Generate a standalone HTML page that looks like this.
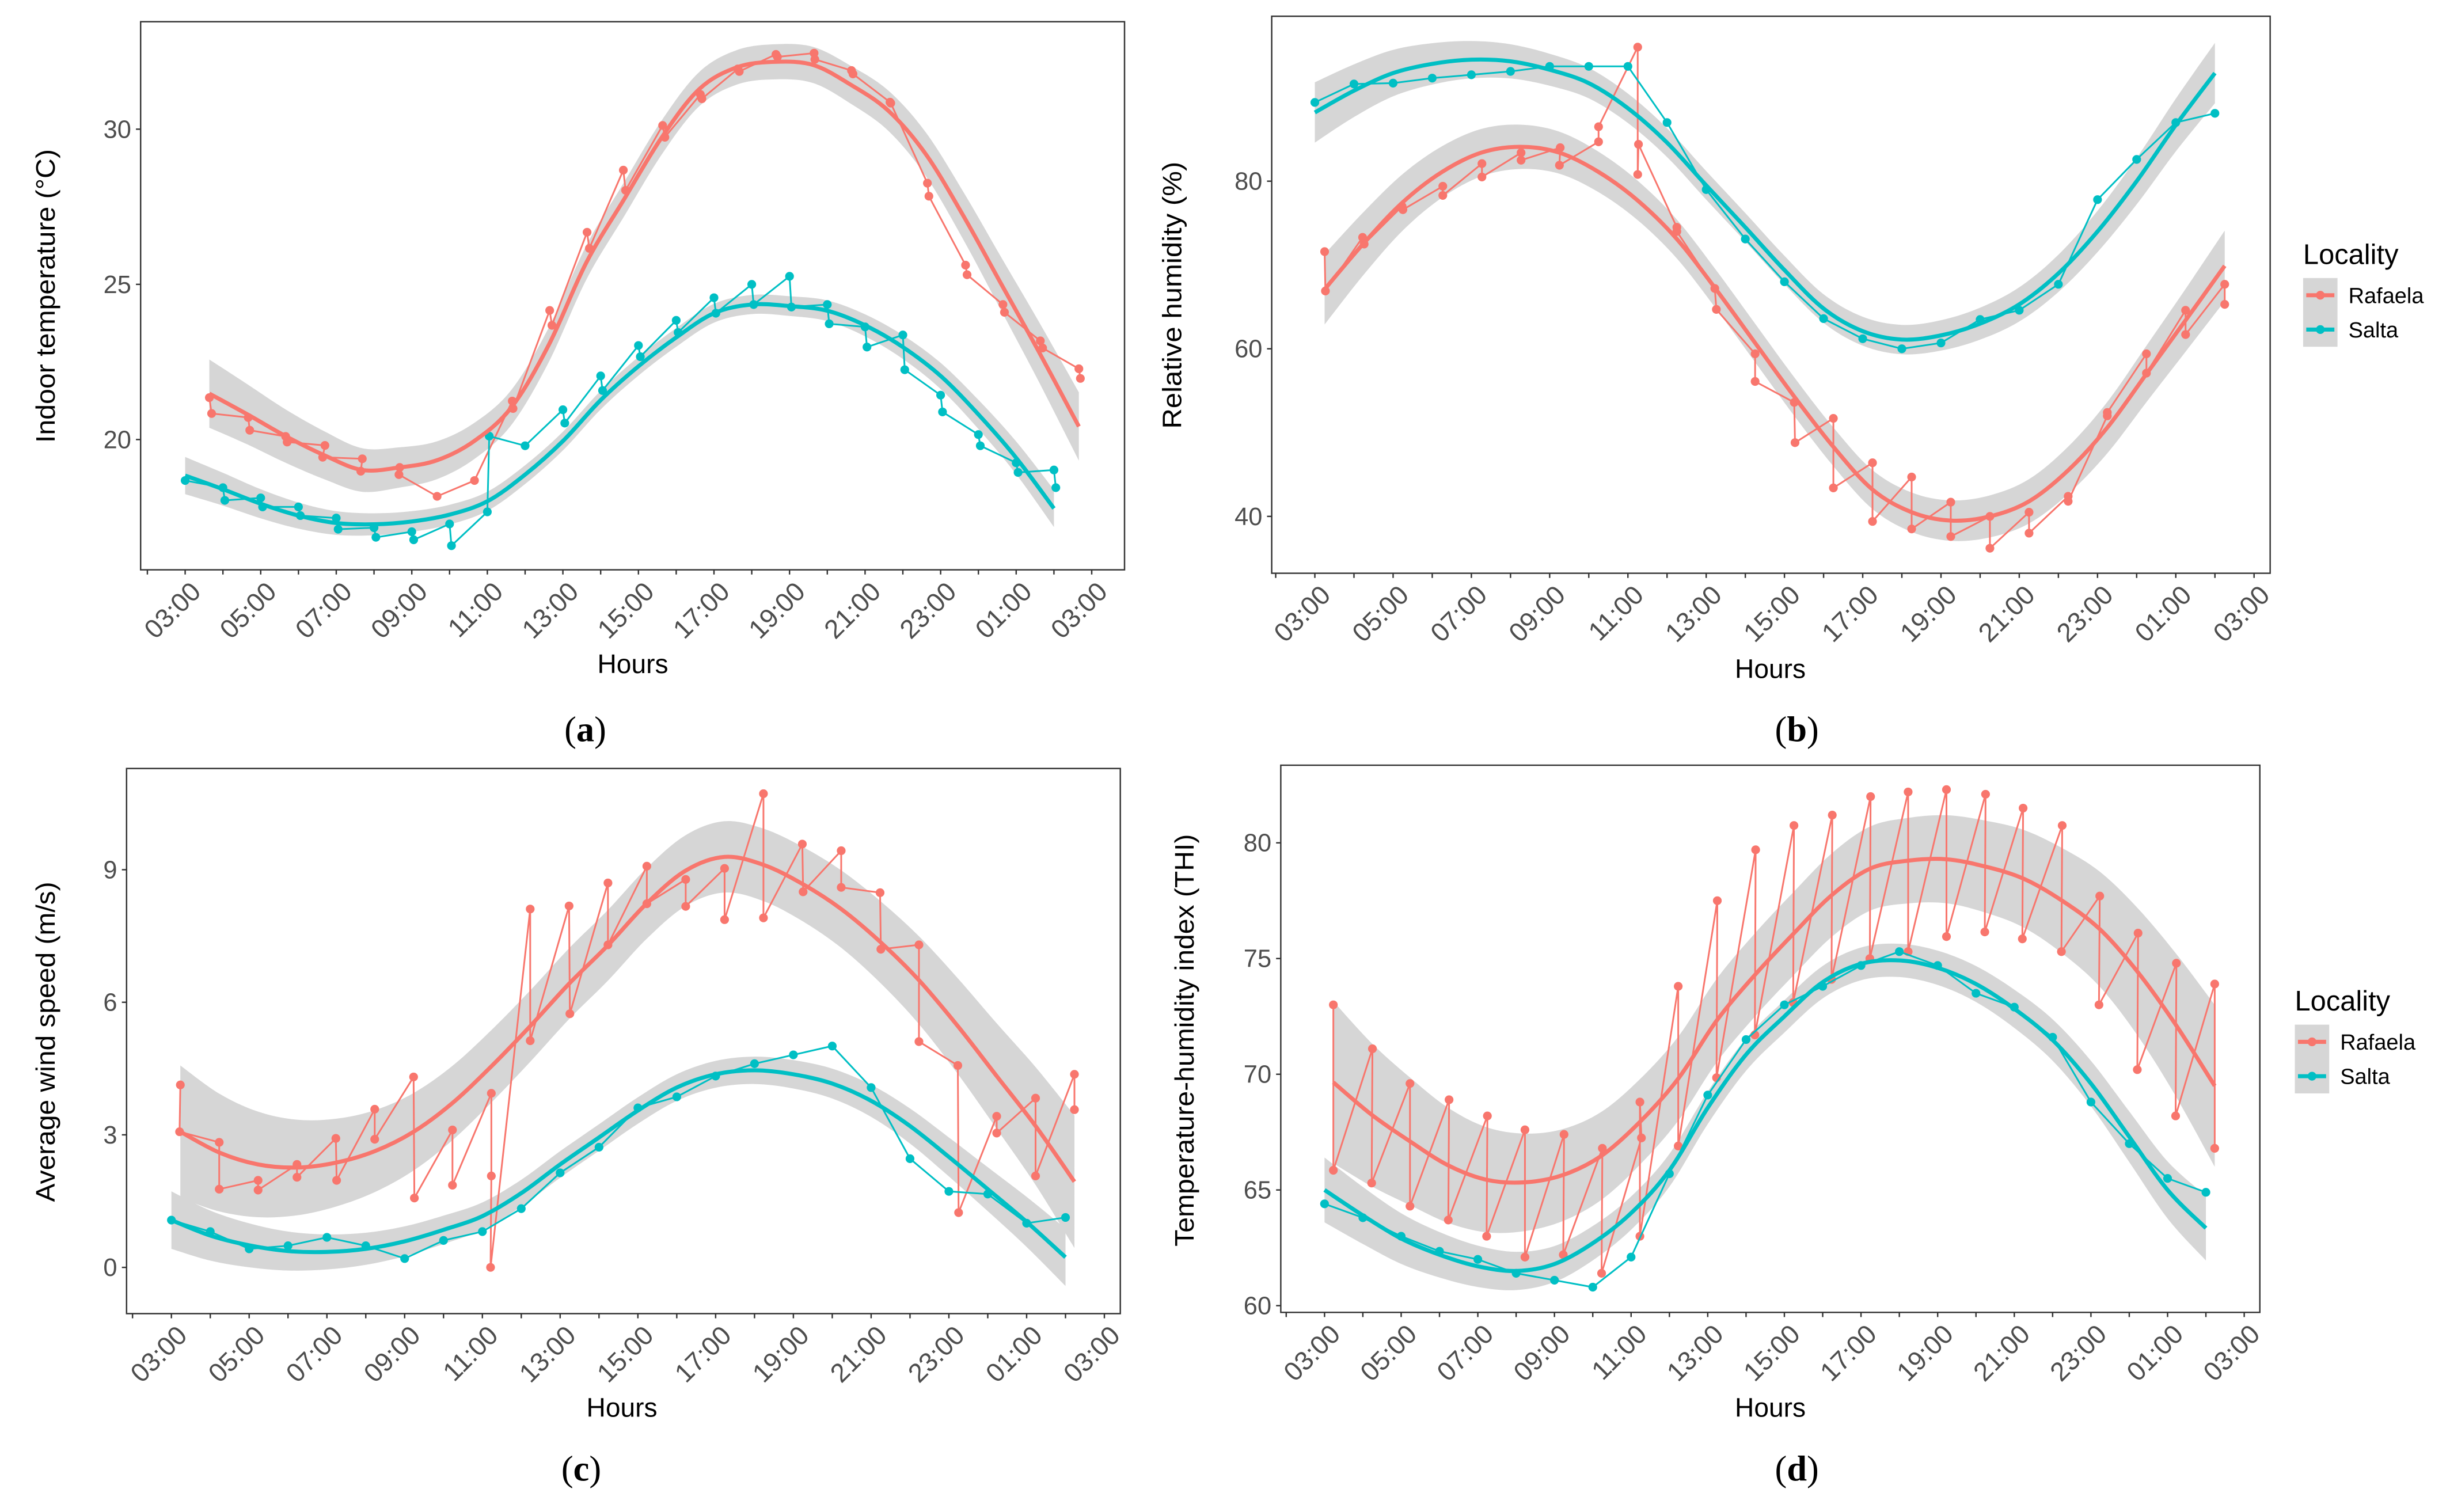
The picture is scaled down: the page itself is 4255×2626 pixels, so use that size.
<!DOCTYPE html>
<html><head><meta charset="utf-8"><style>
html,body{margin:0;padding:0;background:#fff;}
svg{display:block;}
text{font-family:"Liberation Sans",sans-serif;}
</style></head><body>
<svg id="fig" width="4255" height="2626" viewBox="0 0 1568 968" preserveAspectRatio="none" xmlns="http://www.w3.org/2000/svg"></svg>
<script>
// ---------- Panel (a) Indoor temperature ----------
const aRafT=[0.64,0.70,1.67,1.71,2.66,2.70,3.70,3.64,4.69,4.65,5.68,5.66,6.67,7.66,8.66,8.68,9.65,9.71,10.64,10.70,11.6,11.66,12.64,12.70,13.64,13.68,14.63,14.67,15.64,15.68,16.65,16.67,17.64,17.68,18.66,18.68,19.65,19.69,20.66,20.70,21.65,21.69,22.64,22.70,23.66,23.70];
const aRafV=[21.35,20.84,20.71,20.3,20.1,19.92,19.81,19.43,19.38,18.98,19.1,18.87,18.17,18.68,21.24,21.0,24.16,23.68,26.68,26.16,28.68,28.03,30.12,29.74,31.12,30.98,31.94,31.86,32.41,32.33,32.45,32.25,31.89,31.78,30.87,30.84,28.26,27.84,25.62,25.31,24.35,24.1,23.18,22.95,22.28,21.97];
const aSalT=[0,1,1.05,2,2.05,3,3.05,4,4.05,5,5.05,6,6.05,7,7.05,8,8.05,9,10,10.05,11,11.05,12,12.05,13,13.05,14,14.05,15,15.05,16,16.05,17,17.05,18,18.05,19,19.05,20,20.05,21,21.05,22,22.05,23,23.05];
const aSalV=[18.68,18.45,18.04,18.12,17.83,17.83,17.55,17.47,17.11,17.16,16.85,17.03,16.77,17.28,16.58,17.67,20.11,19.8,20.96,20.53,22.05,21.58,23.03,22.67,23.84,23.45,24.57,24.07,25.0,24.35,25.26,24.27,24.35,23.73,23.63,22.98,23.37,22.25,21.43,20.89,20.16,19.8,19.25,18.94,19.02,18.45];
const aRafFitT=[0.64,1.65,2.66,3.69,4.68,5.67,6.66,7.65,8.64,9.63,10.62,11.61,12.62,13.61,14.6,15.61,16.62,17.61,18.62,19.61,20.62,21.61,22.6,23.66];
const aRafFit=[21.48,20.81,20.11,19.49,19.02,19.1,19.33,19.95,21.04,23.06,25.7,27.72,29.74,31.29,31.99,32.17,32.07,31.44,30.59,29.19,27.17,25.0,22.83,20.42];
const aSalFitT=[0,1,2,3,4,5,6,7,8,9,10,11,12,13,14,15,16,17,18,19,20,21,22,23];
const aSalFit=[18.84,18.4,17.93,17.55,17.31,17.27,17.36,17.58,18.01,18.87,19.95,21.27,22.36,23.29,24.07,24.35,24.3,24.15,23.68,22.98,22.05,20.81,19.41,17.78];
const aYTicks=[20,25,30];

// ---------- Panel (b) Relative humidity ----------
const bRafT=[0.25,0.27,1.22,1.26,2.23,2.25,3.27,3.27,4.27,4.27,5.27,5.27,6.27,6.25,7.25,7.25,8.25,8.25,8.27,9.25,9.25,10.22,10.26,11.25,11.25,12.25,12.27,13.25,13.25,14.25,14.25,15.25,15.25,16.25,16.25,17.25,17.25,18.25,18.25,19.25,19.25,20.25,20.25,21.25,21.25,22.25,22.25,23.25,23.25];
const bRafV=[71.6,66.9,73.3,72.5,77.0,76.6,79.4,78.3,82.1,80.5,83.4,82.5,84.0,81.9,84.7,86.5,96.0,80.8,84.4,74.5,74.0,67.2,64.7,59.4,56.1,53.6,48.8,51.7,43.4,46.4,39.4,44.7,38.5,41.7,37.6,40.0,36.2,40.5,38.0,42.4,41.8,52.0,52.4,59.4,57.1,64.6,61.7,67.7,65.3];
const bSalT=[0,1,2,3,4,5,6,7,8,9,10,11,12,13,14,15,16,17,18,19,20,21,22,23];
const bSalV=[89.4,91.6,91.7,92.3,92.7,93.1,93.7,93.7,93.7,87.0,79.0,73.1,68.0,63.6,61.2,60.0,60.7,63.5,64.6,67.7,77.8,82.6,87.0,88.1];
const bRafFitT=[0.25,1.25,2.25,3.25,4.25,5.25,6.25,7.25,8.25,9.25,10.25,11.25,12.25,13.25,14.25,15.25,16.25,17.25,18.25,19.25,20.25,21.25,22.25,23.25];
const bRafFit=[67.1,72.6,77.5,81.1,83.4,84.1,83.4,81.1,77.7,73.1,67.1,60.7,54.3,48.3,43.2,40.5,39.5,40.0,41.8,45.5,50.6,57.0,63.4,69.9];
const bSalFitT=[0,1,2,3,4,5,6,7,8,9,10,11,12,13,14,15,16,17,18,19,20,21,22,23];
const bSalFit=[88.2,90.8,92.9,94.0,94.5,94.3,93.3,91.7,88.7,84.6,79.5,74.5,69.4,64.8,62.1,61.1,61.6,63.0,65.3,69.0,74.0,80.0,86.7,92.9];
const bYTicks=[40,60,80];

// ---------- Panel (c) Wind speed ----------
const cRafT=[0.23,0.21,1.23,1.23,2.23,2.23,3.23,3.23,4.23,4.25,5.23,5.23,6.23,6.25,7.23,7.23,8.23,8.23,8.21,9.23,9.23,10.23,10.25,11.23,11.23,12.23,12.23,13.23,13.23,14.23,14.23,15.23,15.23,16.23,16.25,17.23,17.23,18.23,18.25,19.23,19.23,20.23,20.25,21.23,21.23,22.23,22.23,23.23,23.23];
const cRafV=[4.13,3.07,2.83,1.77,1.97,1.75,2.33,2.04,2.92,1.97,3.58,2.9,4.31,1.57,3.11,1.86,3.94,2.07,0.0,8.11,5.13,8.18,5.74,8.7,7.3,9.08,8.23,8.78,8.17,9.03,7.87,10.72,7.91,9.58,8.5,9.43,8.6,8.48,7.2,7.3,5.11,4.57,1.24,3.42,3.04,3.83,2.07,4.37,3.57];
const cSalT=[0,1,2,3,4,5,6,7,8,9,10,11,12,13,14,15,16,17,18,19,20,21,22,23];
const cSalV=[1.07,0.81,0.42,0.49,0.68,0.49,0.2,0.61,0.81,1.33,2.14,2.72,3.61,3.86,4.33,4.61,4.81,5.01,4.07,2.46,1.72,1.66,1.0,1.13];
const cRafFitT=[0.23,1.23,2.23,3.23,4.23,5.23,6.23,7.23,8.23,9.23,10.23,11.23,12.23,13.23,14.23,15.23,16.23,17.23,18.23,19.23,20.23,21.23,22.23,23.23];
const cRafFit=[3.07,2.6,2.33,2.26,2.37,2.63,3.07,3.72,4.55,5.46,6.42,7.29,8.24,8.98,9.29,9.11,8.68,8.11,7.37,6.5,5.46,4.33,3.2,1.94];
const cSalFitT=[0,1,2,3,4,5,6,7,8,9,10,11,12,13,14,15,16,17,18,19,20,21,22,23];
const cSalFit=[1.07,0.72,0.5,0.37,0.35,0.42,0.59,0.85,1.16,1.68,2.33,2.94,3.55,4.07,4.37,4.46,4.37,4.16,3.77,3.2,2.5,1.77,1.03,0.23];
const cYTicks=[0,3,6,9];

// ---------- Panel (d) THI ----------
const dRafT=[0.23,0.23,1.25,1.23,2.23,2.23,3.25,3.23,4.25,4.23,5.23,5.23,6.25,6.23,7.25,7.23,8.27,8.23,8.23,9.23,9.23,10.25,10.23,11.25,11.23,12.25,12.23,13.25,13.23,14.25,14.23,15.23,15.23,16.23,16.23,17.25,17.23,18.23,18.21,19.25,19.23,20.23,20.21,21.23,21.21,22.23,22.21,23.23,23.23];
const dRafV=[73.0,65.85,71.1,65.3,69.6,64.3,68.9,63.7,68.2,63.0,67.6,62.1,67.4,62.2,66.8,61.4,67.25,68.8,63.0,73.8,66.9,77.5,69.85,79.7,71.7,80.75,73.1,81.2,74.1,82.0,75.0,82.2,75.3,82.3,75.95,82.1,76.15,81.5,75.85,80.75,75.3,77.7,73.0,76.1,70.2,74.8,68.2,73.9,66.8];
const dSalT=[0,1,2,3,4,5,6,7,8,9,10,11,12,13,14,15,16,17,18,19,20,21,22,23];
const dSalV=[64.4,63.8,63.0,62.35,62.0,61.4,61.1,60.8,62.1,65.7,69.1,71.5,73.0,73.8,74.7,75.3,74.7,73.5,72.9,71.6,68.8,67.0,65.5,64.9];
const dRafFitT=[0.23,1.23,2.23,3.23,4.23,5.23,6.23,7.23,8.23,9.23,10.23,11.23,12.23,13.23,14.23,15.23,16.23,17.23,18.23,19.23,20.23,21.23,22.23,23.23];
const dRafFit=[69.65,68.25,67.1,66.06,65.44,65.33,65.65,66.48,67.94,69.81,72.31,74.29,76.06,77.73,78.88,79.23,79.29,78.98,78.46,77.52,76.27,74.4,72.1,69.5];
const dSalFitT=[0,1,2,3,4,5,6,7,8,9,10,11,12,13,14,15,16,17,18,19,20,21,22,23];
const dSalFit=[65.0,63.9,62.9,62.2,61.7,61.5,61.8,62.7,64.0,65.85,68.55,70.85,72.5,73.98,74.77,74.92,74.6,73.9,72.83,71.48,69.6,67.3,65.0,63.35];
const dYTicks=[60,65,70,75,80];

// confidence band half-widths (mid, end) in data units
const aRafBand=[0.55,1.1], aSalBand=[0.3,0.6];
const bRafBand=[2.3,4.2], bSalBand=[1.7,3.6];
const cRafBand=[0.8,1.5], cSalBand=[0.3,0.65];
const dRafBand=[1.8,3.5], dSalBand=[0.7,1.4];

const xTickLabels=["03:00","05:00","07:00","09:00","11:00","13:00","15:00","17:00","19:00","21:00","23:00","01:00","03:00"];

const NS="http://www.w3.org/2000/svg";
const svg=document.getElementById('fig');
const RAF="#F8766D", SAL="#00BFC4";
function mk(tag,attrs,parent){const e=document.createElementNS(NS,tag);for(const k in attrs)e.setAttribute(k,attrs[k]);(parent||svg).appendChild(e);return e;}

function catmull(pts){
  let d="M"+pts[0][0].toFixed(2)+","+pts[0][1].toFixed(2);
  for(let i=0;i<pts.length-1;i++){
    const p0=pts[Math.max(0,i-1)],p1=pts[i],p2=pts[i+1],p3=pts[Math.min(pts.length-1,i+2)];
    const c1=[p1[0]+(p2[0]-p0[0])/6,p1[1]+(p2[1]-p0[1])/6];
    const c2=[p2[0]-(p3[0]-p1[0])/6,p2[1]-(p3[1]-p1[1])/6];
    d+="C"+c1[0].toFixed(2)+","+c1[1].toFixed(2)+" "+c2[0].toFixed(2)+","+c2[1].toFixed(2)+" "+p2[0].toFixed(2)+","+p2[1].toFixed(2);
  }
  return d;
}
function catmullCont(pts){return catmull(pts).replace(/^M/,"L");}

function panel(cfg){
  const g=mk('g',{});
  
  
  const X=t=>cfg.x0+(cfg.x24-cfg.x0)*t/24;
  const Y=v=>cfg.yA+(cfg.yB-cfg.yA)*(v-cfg.vA)/(cfg.vB-cfg.vA);
  const plotBg=mk('rect',{x:cfg.L,y:cfg.T,width:cfg.R-cfg.L,height:cfg.B-cfg.T,fill:"#fff"},g);
  
  
  const series=[[cfg.rafFitT,cfg.rafFit,cfg.rafBand,cfg.rafT,cfg.rafV,RAF,'rafaela'],[cfg.salFitT,cfg.salFit,cfg.salBand,cfg.salT,cfg.salV,SAL,'salta']];
  series.forEach(s=>{
    const [ft,fv,bw]=s; const n=ft.length;
    const hw=i=>{const u=Math.abs(2*i/(n-1)-1);return bw[0]+(bw[1]-bw[0])*Math.pow(u,3);};
    const up=ft.map((t,i)=>[X(t),Y(fv[i]+hw(i))]);
    const lo=ft.map((t,i)=>[X(t),Y(fv[i]-hw(i))]).reverse();
    const p=mk('path',{d:catmull(up)+catmullCont(lo)+"Z",fill:"#D6D6D6",stroke:"none"},g);
    
    
  });
  series.forEach(s=>{
    const ot=s[3],ov=s[4],col=s[5];
    const pl=mk('polyline',{points:ot.map((t,i)=>X(t).toFixed(2)+","+Y(ov[i]).toFixed(2)).join(" "),fill:"none",stroke:col,"stroke-width":1.1},g);
    
    
    ot.forEach((t,i)=>{
      const c=mk('circle',{cx:X(t),cy:Y(ov[i]),r:2.8,fill:col},g);
      
      
    });
  });
  series.forEach(s=>{
    const p=mk('path',{d:catmull(s[0].map((t,i)=>[X(t),Y(s[1][i])])),fill:"none",stroke:s[5],"stroke-width":2.6,"stroke-linecap":"butt"},g);
    
    
  });
  const fr=mk('rect',{x:cfg.L,y:cfg.T,width:cfg.R-cfg.L,height:cfg.B-cfg.T,fill:"none",stroke:"#333","stroke-width":0.9},g);
  
  
  cfg.yTicks.forEach(v=>{
    const y=Y(v);
    const tl=mk('line',{x1:cfg.L-3,x2:cfg.L,y1:y,y2:y,stroke:"#333","stroke-width":0.9},g);
    
    
    const tx=mk('text',{x:cfg.L-6,y:y+5.5,"text-anchor":"end","font-size":16,fill:"#4D4D4D"},g);
    tx.textContent=v;
    
    
  });
  for(let h=-1;h<=24;h++){
    const x=X(h); if(x<cfg.L||x>cfg.R) continue;
    const tl=mk('line',{x1:x,x2:x,y1:cfg.B,y2:cfg.B+3,stroke:"#333","stroke-width":0.9},g);
    
    
  }
  xTickLabels.forEach((lab,i)=>{
    const x=X(i*2);
    const tx=mk('text',{transform:"translate("+(x+11)+","+(cfg.B+15)+") rotate(-45)","text-anchor":"end","font-size":17,fill:"#4D4D4D"},g);
    tx.textContent=lab;
    
    
  });
  const xt=mk('text',{x:cfg.hx,y:cfg.hy,"text-anchor":"middle","font-size":17,fill:"#000"},g);
  xt.textContent="Hours";
  
  
  const yt=mk('text',{transform:"translate("+cfg.ytx+","+cfg.yty+") rotate(-90)","text-anchor":"middle","font-size":17,fill:"#000",textLength:cfg.ytl,lengthAdjust:"spacingAndGlyphs"},g);
  yt.textContent=cfg.ytitle;
  
  
  const cap=mk('text',{x:cfg.cx,y:cfg.cy,"text-anchor":"middle","font-size":23,fill:"#000",style:"font-family:'Liberation Serif',serif"},g);
  cap.innerHTML='(<tspan font-weight="bold">'+cfg.id+'</tspan>)';
  
  
  if(cfg.leg){
    const lg=mk('g',{},g);
    
    
    const lt=mk('text',{x:cfg.leg.x,y:cfg.leg.y,"font-size":18,fill:"#000"},lg);
    lt.textContent="Locality";
    
    
    const kb=mk('rect',{x:cfg.leg.x,y:cfg.leg.y+9,width:22,height:44,fill:"#D6D6D6"},lg);
    
    
    [["Rafaela",RAF,20],["Salta",SAL,42]].forEach(e=>{
      const ey=cfg.leg.y+e[2];
      const ent=mk('g',{},lg);
      
      
      mk('line',{x1:cfg.leg.x+2,x2:cfg.leg.x+20,y1:ey,y2:ey,stroke:e[1],"stroke-width":2.6},ent);
      mk('circle',{cx:cfg.leg.x+11,cy:ey,r:2.8,fill:e[1]},ent);
      const t=mk('text',{x:cfg.leg.x+29,y:ey+5,"font-size":14,fill:"#000"},ent);
      t.textContent=e[0];
    });
  }
}

panel({id:'a',L:90,R:719.7,T:13.9,B:364.8,x0:118.5,x24:698.7,vA:20,yA:281.4,vB:30,yB:82.7,yTicks:aYTicks,
  rafT:aRafT,rafV:aRafV,salT:aSalT,salV:aSalV,rafFitT:aRafFitT,rafFit:aRafFit,salFitT:aSalFitT,salFit:aSalFit,rafBand:aRafBand,salBand:aSalBand,
  hx:405,hy:431,ytx:35,yty:189.5,ytl:188,ytitle:"Indoor temperature (°C)",cx:374.6,cy:474.6});
panel({id:'b',L:813.9,R:1452.9,T:10.4,B:367,x0:841.5,x24:1442.6,vA:40,yA:330.6,vB:80,yB:116,yTicks:bYTicks,
  rafT:bRafT,rafV:bRafV,salT:bSalT,salV:bSalV,rafFitT:bRafFitT,rafFit:bRafFit,salFitT:bSalFitT,salFit:bSalFit,rafBand:bRafBand,salBand:bSalBand,
  hx:1133,hy:434,ytx:756,yty:189,ytl:171,ytitle:"Relative humidity (%)",cx:1150,cy:474.6,leg:{x:1474,y:169}});
panel({id:'c',L:81,R:717,T:492,B:841,x0:109.7,x24:706.8,vA:0,yA:811.4,vB:9,yB:556.8,yTicks:cYTicks,
  rafT:cRafT,rafV:cRafV,salT:cSalT,salV:cSalV,rafFitT:cRafFitT,rafFit:cRafFit,salFitT:cSalFitT,salFit:cSalFit,rafBand:cRafBand,salBand:cSalBand,
  hx:398,hy:907,ytx:35,yty:667,ytl:205,ytitle:"Average wind speed (m/s)",cx:372,cy:948});
panel({id:'d',L:819.7,R:1446.3,T:489.9,B:840.2,x0:847.7,x24:1436.3,vA:60,yA:835.9,vB:80,yB:539.6,yTicks:dYTicks,
  rafT:dRafT,rafV:dRafV,salT:dSalT,salV:dSalV,rafFitT:dRafFitT,rafFit:dRafFit,salFitT:dSalFitT,salFit:dSalFit,rafBand:dRafBand,salBand:dSalBand,
  hx:1133,hy:907,ytx:764,yty:666,ytl:264,ytitle:"Temperature-humidity index (THI)",cx:1150,cy:948,leg:{x:1468.7,y:647}});
</script>
</body></html>
